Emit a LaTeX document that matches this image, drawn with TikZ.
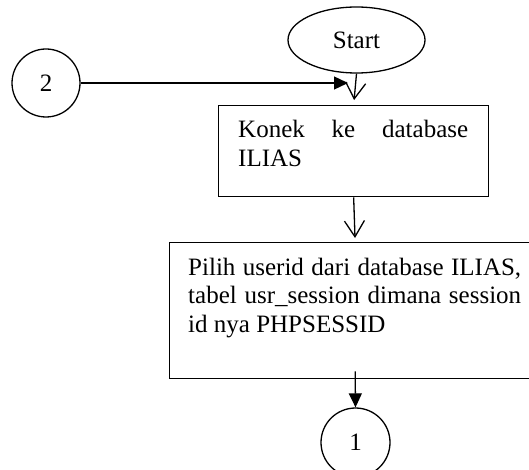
\documentclass[tikz,border=0pt]{standalone}
\usepackage{fontspec}
\setmainfont{Liberation Serif}
\usetikzlibrary{shapes.geometric,arrows.meta}
\begin{document}
\begin{tikzpicture}[x=1pt,y=-1pt,
  every node/.style={font=\fontsize{25}{28.75}\selectfont},
  lw/.style={line width=1.3pt},
  boxshape/.style={draw,lw,rectangle,inner sep=0,anchor=north west},
  conn/.style={draw,lw,circle,inner sep=0,minimum size=68pt},
  openarrow/.style={lw,-{Straight Barb[length=16pt,width=20pt]}},
  filledarrow/.style={lw,-{Triangle[length=14pt,width=13pt]}},
  txt/.style={inner sep=0,anchor=base west}]
\useasboundingbox (0,0) rectangle (529,470);
\fill[white] (0,0) rectangle (529,470);
\node[draw,lw,ellipse,minimum width=137pt,minimum height=66pt,inner sep=0] (start) at (356.5,40) {Start};
\node[conn] (c2) at (46,83) {2};
\node[boxshape,minimum width=270pt,minimum height=91pt] (b1) at (218,105) {};
\node[txt] (t1) at (238,138) {\parbox[t]{230pt}{\tolerance=10000 \hyphenpenalty=10000 Konek ke database ILIAS}};
\node[boxshape,minimum width=371pt,minimum height=136pt] (b2) at (169,242) {};
\node[txt] (t2) at (188,275) {\parbox[t]{333pt}{\tolerance=10000 \hyphenpenalty=10000 Pilih userid dari database ILIAS, tabel usr\_session dimana session id nya PHPSESSID}};
\node[conn,minimum size=69pt] (c1) at (355.5,442.5) {1};
\coordinate (j) at (348,83);
\draw[filledarrow] (c2.east) -- (j);
\draw[openarrow,shorten >=5pt] (start.south) -- (b1.north);
\draw[openarrow,shorten >=4pt] (b1.south) -- (b2.north);
\draw[filledarrow] ([yshift=8pt]b2.south) -- (c1.north);
\end{tikzpicture}
\end{document}
